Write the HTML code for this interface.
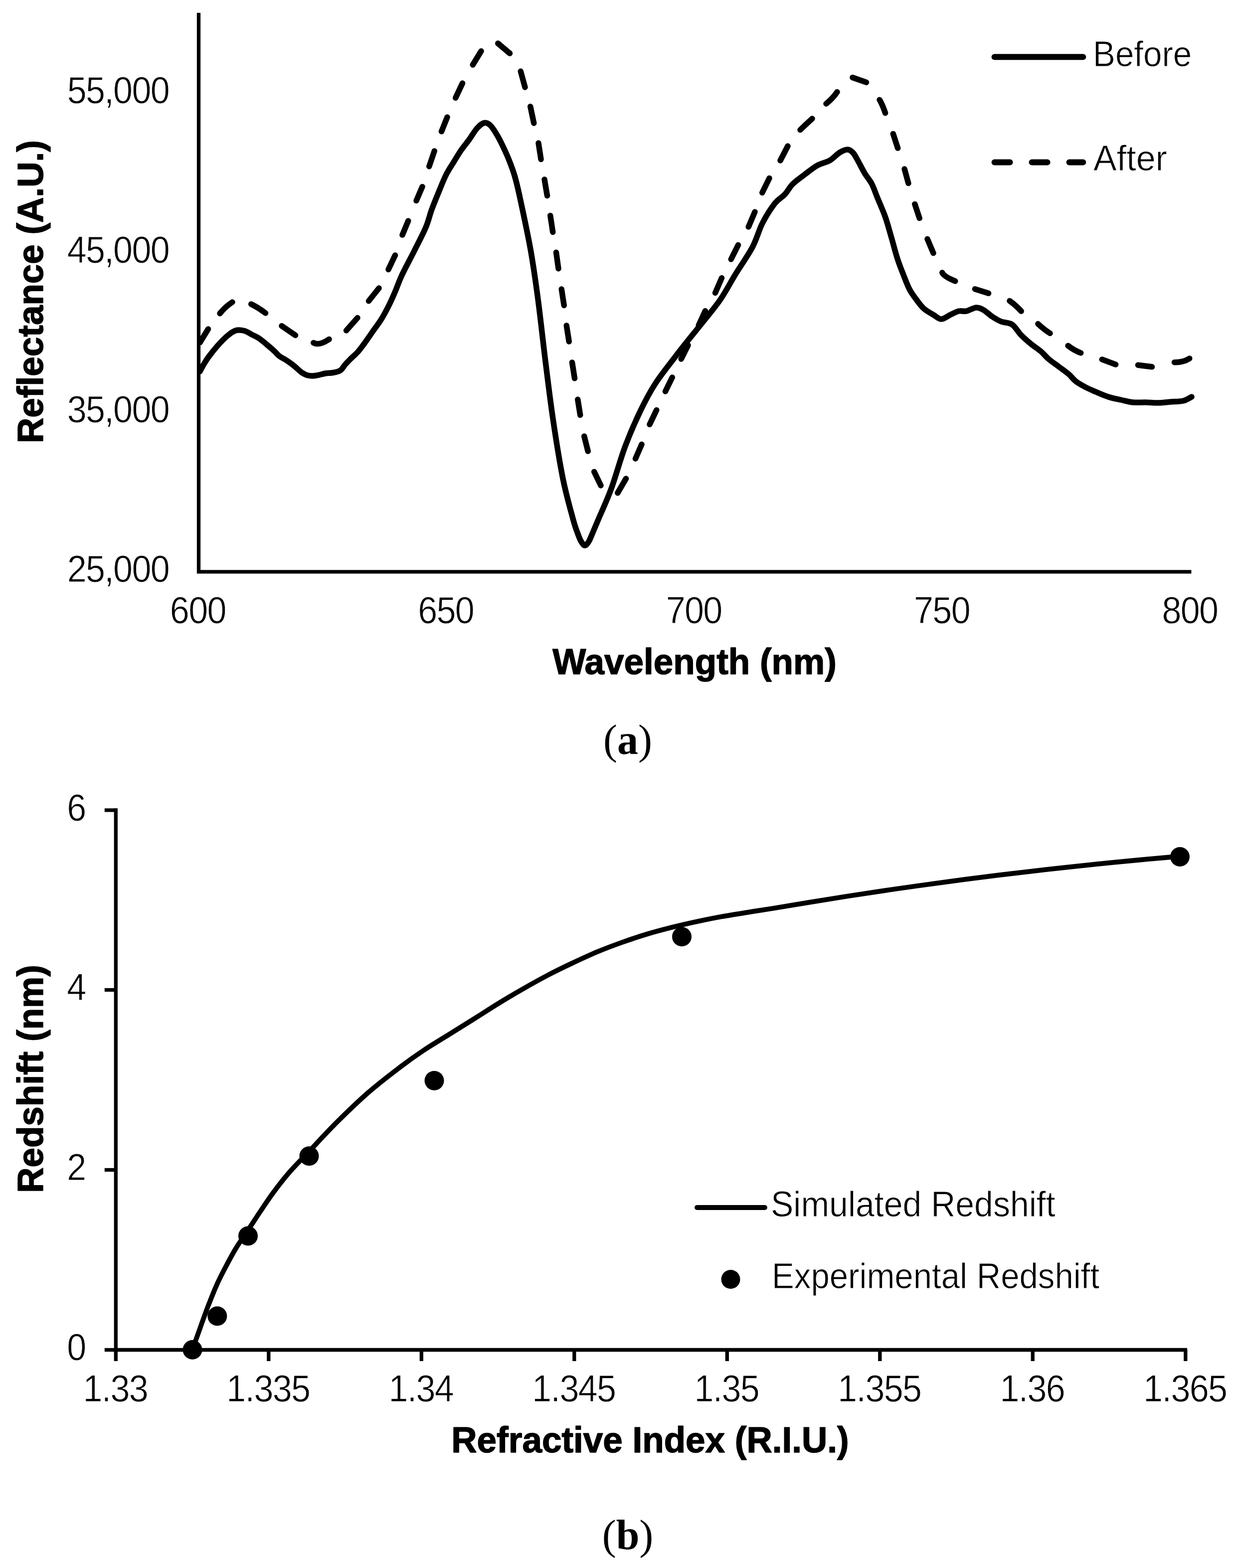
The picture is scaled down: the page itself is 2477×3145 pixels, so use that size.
<!DOCTYPE html>
<html lang="en"><head><meta charset="utf-8"><title>Reflectance spectra and redshift</title>
<style>
html,body{margin:0;padding:0;background:#fff;}
body{width:2477px;height:3145px;overflow:hidden;}
svg{display:block;filter:blur(0.7px);}
.tick{font-family:"Liberation Sans",sans-serif;font-size:68px;fill:#000;letter-spacing:-1.6px;stroke:#fff;stroke-width:0.8px;paint-order:fill stroke;}
.ttl{font-family:"Liberation Sans",sans-serif;font-weight:bold;font-size:70px;fill:#000;stroke:#000;stroke-width:1.4px;stroke-linejoin:round;}
.leg{font-family:"Liberation Sans",sans-serif;font-size:68px;fill:#000;stroke:#fff;stroke-width:0.8px;paint-order:fill stroke;}
.cap{font-family:"Liberation Serif",serif;font-size:84px;fill:#000;}
.ax{stroke:#000;stroke-width:7.3;fill:none;stroke-linecap:square;}
.tk{stroke:#000;stroke-width:7.3;fill:none;stroke-linecap:butt;}
.ln{stroke:#000;fill:none;stroke-linecap:round;stroke-linejoin:round;}
</style></head><body>
<svg width="2477" height="3145" viewBox="0 0 2477 3145" role="img" aria-label="Reflectance spectra before and after, and redshift versus refractive index">
<rect x="0" y="0" width="2477" height="3145" fill="#fff"/>
<g id="chart-a">
<path class="ax" d="M398.5 29.3 V1146.8 H2385.8"/>
<text class="tick" transform="translate(339 206.6) scale(1.03 1.118)" text-anchor="end">55,000</text>
<text class="tick" transform="translate(339 526.6) scale(1.03 1.118)" text-anchor="end">45,000</text>
<text class="tick" transform="translate(339 847.1) scale(1.03 1.118)" text-anchor="end">35,000</text>
<text class="tick" transform="translate(339 1167.1) scale(1.03 1.118)" text-anchor="end">25,000</text>
<text class="tick" transform="translate(396.8 1250) scale(1.03 1.118)" text-anchor="middle">600</text>
<text class="tick" transform="translate(894.2 1250) scale(1.03 1.118)" text-anchor="middle">650</text>
<text class="tick" transform="translate(1391.6 1250) scale(1.03 1.118)" text-anchor="middle">700</text>
<text class="tick" transform="translate(1889 1250) scale(1.03 1.118)" text-anchor="middle">750</text>
<text class="tick" transform="translate(2386.4 1250) scale(1.03 1.118)" text-anchor="middle">800</text>
<text class="ttl" transform="translate(86 585) rotate(-90) scale(1.015 1.045)" text-anchor="middle">Reflectance (A.U.)</text>
<text class="ttl" transform="translate(1393 1352) scale(1.015 1.045)" text-anchor="middle">Wavelength (nm)</text>
<path class="ln" stroke-width="11.5" d="M401.0 745.0 C402.2 742.8 405.2 736.7 408.0 732.0 C410.8 727.3 413.0 723.2 417.5 717.0 C422.0 710.8 428.8 702.1 435.0 695.0 C441.2 687.9 448.8 679.8 455.0 674.5 C461.2 669.2 466.7 664.8 472.5 663.0 C478.3 661.2 484.6 662.2 490.0 663.5 C495.4 664.8 500.0 668.4 505.0 671.0 C510.0 673.6 515.0 675.7 520.0 679.0 C525.0 682.3 530.0 686.8 535.0 691.0 C540.0 695.2 545.8 700.2 550.0 704.0 C554.2 707.8 555.8 710.8 560.0 714.0 C564.2 717.2 570.0 719.7 575.0 723.0 C580.0 726.3 585.0 730.0 590.0 734.0 C595.0 738.0 600.4 743.8 605.0 747.0 C609.6 750.2 612.9 751.9 617.5 753.0 C622.1 754.1 626.7 754.2 632.5 753.5 C638.3 752.8 646.7 750.0 652.5 749.0 C658.3 748.0 662.5 748.5 667.5 747.5 C672.5 746.5 678.3 745.8 682.5 743.0 C686.7 740.2 689.2 734.8 692.5 731.0 C695.8 727.2 698.3 724.7 702.5 720.5 C706.7 716.3 712.9 711.1 717.5 706.0 C722.1 700.9 725.0 696.8 730.0 690.0 C735.0 683.2 741.7 673.3 747.5 665.0 C753.3 656.7 759.6 648.8 765.0 640.0 C770.4 631.2 775.4 621.7 780.0 612.5 C784.6 603.3 788.2 595.1 792.5 585.0 C796.8 574.9 799.8 565.3 806.0 552.0 C812.2 538.7 822.0 521.0 830.0 505.0 C838.0 489.0 848.0 470.2 854.0 456.0 C860.0 441.8 861.3 432.7 866.0 420.0 C870.7 407.3 877.2 391.7 882.0 380.0 C886.8 368.3 890.3 359.2 895.0 350.0 C899.7 340.8 905.0 333.2 910.0 325.0 C915.0 316.8 919.8 308.5 925.0 301.0 C930.2 293.5 935.7 287.3 941.0 280.0 C946.3 272.7 951.9 262.6 957.0 257.0 C962.1 251.4 967.0 247.3 971.5 246.5 C976.0 245.7 979.8 247.9 984.0 252.0 C988.2 256.1 993.0 264.3 997.0 271.0 C1001.0 277.7 1004.1 283.8 1008.0 292.0 C1011.9 300.2 1016.5 310.0 1020.5 320.0 C1024.5 330.0 1028.3 339.5 1032.0 352.0 C1035.7 364.5 1037.2 370.3 1042.5 395.0 C1047.8 419.7 1057.9 465.8 1064.0 500.0 C1070.1 534.2 1074.0 562.5 1079.0 600.0 C1084.0 637.5 1089.0 685.0 1094.0 725.0 C1099.0 765.0 1103.2 800.8 1109.0 840.0 C1114.8 879.2 1122.3 926.7 1129.0 960.0 C1135.7 993.3 1144.2 1022.0 1149.0 1040.0 C1153.8 1058.0 1155.3 1060.5 1158.0 1068.0 C1160.7 1075.5 1162.5 1080.7 1165.0 1085.0 C1167.5 1089.3 1170.3 1093.8 1173.0 1094.0 C1175.7 1094.2 1178.3 1090.3 1181.0 1086.0 C1183.7 1081.7 1185.8 1075.3 1189.0 1068.0 C1192.2 1060.7 1193.8 1056.7 1200.0 1042.0 C1206.2 1027.3 1217.0 1004.5 1226.0 980.0 C1235.0 955.5 1244.3 920.8 1254.0 895.0 C1263.7 869.2 1274.0 845.8 1284.0 825.0 C1294.0 804.2 1302.3 788.2 1314.0 770.0 C1325.7 751.8 1343.2 730.3 1354.0 716.0 C1364.8 701.7 1370.7 694.5 1379.0 684.0 C1387.3 673.5 1393.2 666.7 1404.0 653.0 C1414.8 639.3 1432.3 618.8 1444.0 602.0 C1455.7 585.2 1463.2 569.7 1474.0 552.0 C1484.8 534.3 1499.8 513.3 1509.0 496.0 C1518.2 478.7 1521.5 462.7 1529.0 448.0 C1536.5 433.3 1546.5 417.7 1554.0 408.0 C1561.5 398.3 1568.0 396.5 1574.0 390.0 C1580.0 383.5 1583.3 375.7 1590.0 369.0 C1596.7 362.3 1605.8 356.2 1614.0 350.0 C1622.2 343.8 1630.7 336.7 1639.0 332.0 C1647.3 327.3 1656.5 326.3 1664.0 322.0 C1671.5 317.7 1678.0 309.7 1684.0 306.0 C1690.0 302.3 1695.5 299.9 1700.0 300.0 C1704.5 300.1 1707.6 302.8 1711.0 306.5 C1714.4 310.2 1716.6 315.1 1720.5 322.0 C1724.4 328.9 1729.9 340.2 1734.6 348.0 C1739.3 355.8 1744.4 360.8 1748.6 369.0 C1752.8 377.2 1755.5 386.0 1760.0 397.0 C1764.5 408.0 1770.9 422.0 1775.5 435.0 C1780.1 448.0 1783.4 461.0 1787.5 475.0 C1791.6 489.0 1796.0 506.5 1800.0 519.0 C1804.0 531.5 1807.5 539.8 1811.5 550.0 C1815.5 560.2 1819.6 571.5 1824.0 580.0 C1828.4 588.5 1833.2 594.5 1838.0 601.0 C1842.8 607.5 1847.2 613.8 1853.0 619.0 C1858.8 624.2 1867.2 628.5 1873.0 632.0 C1878.8 635.5 1882.7 640.0 1888.0 640.0 C1893.3 640.0 1899.2 634.7 1905.0 632.0 C1910.8 629.3 1917.5 625.3 1923.0 624.0 C1928.5 622.7 1932.2 625.2 1938.0 624.0 C1943.8 622.8 1952.2 617.3 1958.0 617.0 C1963.8 616.7 1967.7 619.0 1973.0 622.0 C1978.3 625.0 1984.2 631.2 1990.0 635.0 C1995.8 638.8 2001.3 642.3 2008.0 645.0 C2014.7 647.7 2023.3 646.5 2030.0 651.0 C2036.7 655.5 2041.7 665.5 2048.0 672.0 C2054.3 678.5 2061.3 684.5 2068.0 690.0 C2074.7 695.5 2082.2 700.0 2088.0 705.0 C2093.8 710.0 2097.2 715.0 2103.0 720.0 C2108.8 725.0 2116.3 730.0 2123.0 735.0 C2129.7 740.0 2137.2 745.0 2143.0 750.0 C2148.8 755.0 2152.2 760.5 2158.0 765.0 C2163.8 769.5 2171.3 773.5 2178.0 777.0 C2184.7 780.5 2190.5 782.8 2198.0 786.0 C2205.5 789.2 2214.7 793.3 2223.0 796.0 C2231.3 798.7 2239.7 800.2 2248.0 802.0 C2256.3 803.8 2264.7 806.2 2273.0 807.0 C2281.3 807.8 2289.7 806.8 2298.0 807.0 C2306.3 807.2 2314.7 808.2 2323.0 808.0 C2331.3 807.8 2339.7 806.7 2348.0 806.0 C2356.3 805.3 2366.0 805.7 2373.0 804.0 C2380.0 802.3 2387.2 797.3 2390.0 796.0"/>
<path class="ln" stroke-width="11.5" d="M401 687L417.5 660 M441 628.75Q452.5 614.6 466 606 M503.75 610Q517.9 617.0 532.5 628 M565 653.75L592.5 672.5 M628.75 687.5Q639.6 694.0 660 680.5 M694.5 663L717 637.5 M739.5 603.75L760 578 M779 540.5L792.5 512 M807 471.25L818.75 443 M835 402.5L847 374.5 M860.75 333.75L871.25 303 M885.5 263.75L897 235 M913.75 196.25L927.5 167 M948.25 130L965 102.5 M998.75 87L1022.5 107 M1044.25 143L1053 175 M1063.75 213.75L1070.75 247 M1080 287L1085 319.5 M1092 360L1097.5 392.5 M1103.75 432.5L1108.75 465.5 M1115.5 506.25L1120 538.75 M1126.25 580L1131.25 612.5 M1136.25 653L1141.25 685 M1147.5 727L1152.5 758.75 M1158.75 801.25L1163.75 832.5 M1171.75 875L1179.25 905 M1191.75 946.25L1205 973.75 M1238.75 988.75L1255.5 960 M1274.5 920L1287 891.25 M1303 851.25L1316.75 822.5 M1334.5 785L1348.25 757 M1366.25 720L1380 692.5 M1401.25 652.5L1414.5 623.75 M1434.5 587.5L1447.5 557.5 M1466.25 520L1480.5 491.5 M1501.25 455L1514 425 M1528.75 386.5L1543 357.5 M1565 322L1580 293 M1605 260.5Q1617.0 248.8 1629 238 M1657 208Q1670.0 197.8 1679 184.5 M1710 155.5L1737.5 165.2 M1764.1 200.2Q1770.2 210.6 1775.6 226.7 M1791.3 268.4L1800.7 297.1 M1814.1 338.9L1821.9 367.6 M1834.8 409.4L1844.2 437.6 M1860.0 479.3L1872.0 507.7 M1889.8 546.8Q1893.2 554.7 1915.8 563.9 M1955.4 579.7L1982.6 588.3 M2025.0 603.5Q2037.4 612.1 2048.2 624.2 M2081.9 649.6Q2094.1 661.0 2106.0 668.5 M2142.1 693.4Q2155.1 703.4 2167.7 707.9 M2210.3 720.9L2237.7 731.1 M2282.5 732.3L2310.5 735.7 M2355.5 726.7Q2373.4 727.1 2385.7 719.0"/>
<path class="ln" stroke-width="12" d="M1994.6 114.3 H2172.3"/>
<text class="leg" transform="translate(2192 132.5) scale(0.99 1.075)">Before</text>
<path class="ln" stroke-width="12" stroke-dasharray="31 44" d="M1994.6 325.5 H2172.3"/>
<text class="leg" transform="translate(2193 342) scale(1.03 1.075)">After</text>
</g>
<text class="cap" transform="translate(1259 1512)" text-anchor="middle">(<tspan font-weight="bold">a</tspan>)</text>
<g id="chart-b">
<path class="ax" d="M232.3 1625 V2707.5 H2377.5"/>
<path class="tk" d="M209.8 1625 H232.3"/>
<text class="tick" transform="translate(171.5 1645.6) scale(1.03 1.118)" text-anchor="end">6</text>
<path class="tk" d="M209.8 1985.5 H232.3"/>
<text class="tick" transform="translate(171.5 2006.1) scale(1.03 1.118)" text-anchor="end">4</text>
<path class="tk" d="M209.8 2346.5 H232.3"/>
<text class="tick" transform="translate(171.5 2367.1) scale(1.03 1.118)" text-anchor="end">2</text>
<path class="tk" d="M209.8 2707.5 H232.3"/>
<text class="tick" transform="translate(171.5 2728.1) scale(1.03 1.118)" text-anchor="end">0</text>
<path class="tk" d="M232.3 2707.5 V2730.0"/>
<text class="tick" transform="translate(231.3 2810.8) scale(1.03 1.118)" text-anchor="middle">1.33</text>
<path class="tk" d="M538.8 2707.5 V2730.0"/>
<text class="tick" transform="translate(537.8 2810.8) scale(1.03 1.118)" text-anchor="middle">1.335</text>
<path class="tk" d="M845.3 2707.5 V2730.0"/>
<text class="tick" transform="translate(844.3 2810.8) scale(1.03 1.118)" text-anchor="middle">1.34</text>
<path class="tk" d="M1151.8 2707.5 V2730.0"/>
<text class="tick" transform="translate(1150.8 2810.8) scale(1.03 1.118)" text-anchor="middle">1.345</text>
<path class="tk" d="M1458.3 2707.5 V2730.0"/>
<text class="tick" transform="translate(1457.3 2810.8) scale(1.03 1.118)" text-anchor="middle">1.35</text>
<path class="tk" d="M1764.8 2707.5 V2730.0"/>
<text class="tick" transform="translate(1763.8 2810.8) scale(1.03 1.118)" text-anchor="middle">1.355</text>
<path class="tk" d="M2071.3 2707.5 V2730.0"/>
<text class="tick" transform="translate(2070.3 2810.8) scale(1.03 1.118)" text-anchor="middle">1.36</text>
<path class="tk" d="M2377.8 2707.5 V2730.0"/>
<text class="tick" transform="translate(2376.8 2810.8) scale(1.03 1.118)" text-anchor="middle">1.365</text>
<text class="ttl" transform="translate(86 2164) rotate(-90) scale(1.015 1.045)" text-anchor="middle">Redshift (nm)</text>
<text class="ttl" transform="translate(1304 2912.8) scale(1.015 1.045)" text-anchor="middle">Refractive Index (R.I.U.)</text>
<path class="ln" stroke-width="9.8" d="M386.0 2707.0 C388.6 2699.7 396.2 2678.1 401.5 2663.3 C406.8 2648.5 412.6 2632.1 418.0 2618.1 C423.4 2604.1 428.4 2591.2 433.7 2579.4 C438.9 2567.6 443.1 2559.5 449.5 2547.1 C455.9 2534.7 464.6 2518.0 472.4 2505.1 C480.1 2492.2 487.6 2482.2 496.0 2469.6 C504.4 2457.0 513.8 2442.2 522.5 2429.3 C531.2 2416.4 538.4 2405.1 548.0 2392.2 C557.6 2379.3 568.3 2365.2 580.0 2351.8 C591.7 2338.4 602.2 2328.2 618.0 2311.5 C633.8 2294.8 654.8 2271.6 675.0 2251.5 C695.2 2231.4 717.7 2209.6 739.0 2191.0 C760.3 2172.4 784.5 2154.1 803.0 2140.0 C821.5 2125.9 833.9 2117.2 850.0 2106.5 C866.1 2095.8 883.1 2085.8 899.6 2075.5 C916.1 2065.2 932.7 2054.9 949.3 2044.5 C965.9 2034.1 982.5 2023.2 999.1 2013.0 C1015.7 2002.8 1032.3 1993.0 1048.9 1983.5 C1065.5 1974.0 1082.1 1964.7 1098.7 1956.0 C1115.3 1947.3 1131.8 1939.3 1148.4 1931.5 C1165.0 1923.7 1181.6 1915.9 1198.2 1909.0 C1214.8 1902.1 1231.4 1895.9 1248.0 1890.0 C1264.6 1884.1 1281.2 1878.5 1297.8 1873.5 C1314.4 1868.5 1330.9 1864.2 1347.5 1860.0 C1364.1 1855.8 1380.7 1852.1 1397.3 1848.5 C1413.9 1844.9 1430.5 1841.5 1447.1 1838.5 C1463.7 1835.5 1479.8 1833.0 1496.9 1830.3 C1514.1 1827.5 1529.5 1825.3 1550.0 1822.0 C1570.5 1818.7 1595.0 1814.4 1620.0 1810.3 C1645.0 1806.2 1670.0 1802.1 1700.0 1797.5 C1730.0 1792.9 1766.7 1787.3 1800.0 1782.5 C1833.3 1777.7 1866.7 1773.1 1900.0 1768.6 C1933.3 1764.1 1966.7 1759.8 2000.0 1755.7 C2033.3 1751.6 2066.7 1747.7 2100.0 1743.9 C2133.3 1740.1 2166.7 1736.5 2200.0 1733.1 C2233.3 1729.7 2272.2 1726.0 2300.0 1723.4 C2327.8 1720.8 2355.4 1718.5 2366.5 1717.5"/>
<circle cx="386" cy="2707.3" r="19.5" fill="#000"/>
<circle cx="435.8" cy="2639.8" r="19.5" fill="#000"/>
<circle cx="497.5" cy="2479" r="19.5" fill="#000"/>
<circle cx="620" cy="2318.8" r="19.5" fill="#000"/>
<circle cx="871" cy="2167.4" r="19.5" fill="#000"/>
<circle cx="1367.5" cy="1878.8" r="19.5" fill="#000"/>
<circle cx="2366.5" cy="1718.5" r="19.5" fill="#000"/>
<path class="ln" stroke-width="9.8" d="M1398 2422 H1534"/>
<text class="leg" transform="translate(1546 2440) scale(1.0 1.075)">Simulated Redshift</text>
<circle cx="1465.5" cy="2566" r="19" fill="#000"/>
<text class="leg" transform="translate(1548 2584) scale(0.988 1.075)">Experimental Redshift</text>
</g>
<text class="cap" transform="translate(1259 3107)" text-anchor="middle">(<tspan font-weight="bold">b</tspan>)</text>
</svg>
</body></html>
